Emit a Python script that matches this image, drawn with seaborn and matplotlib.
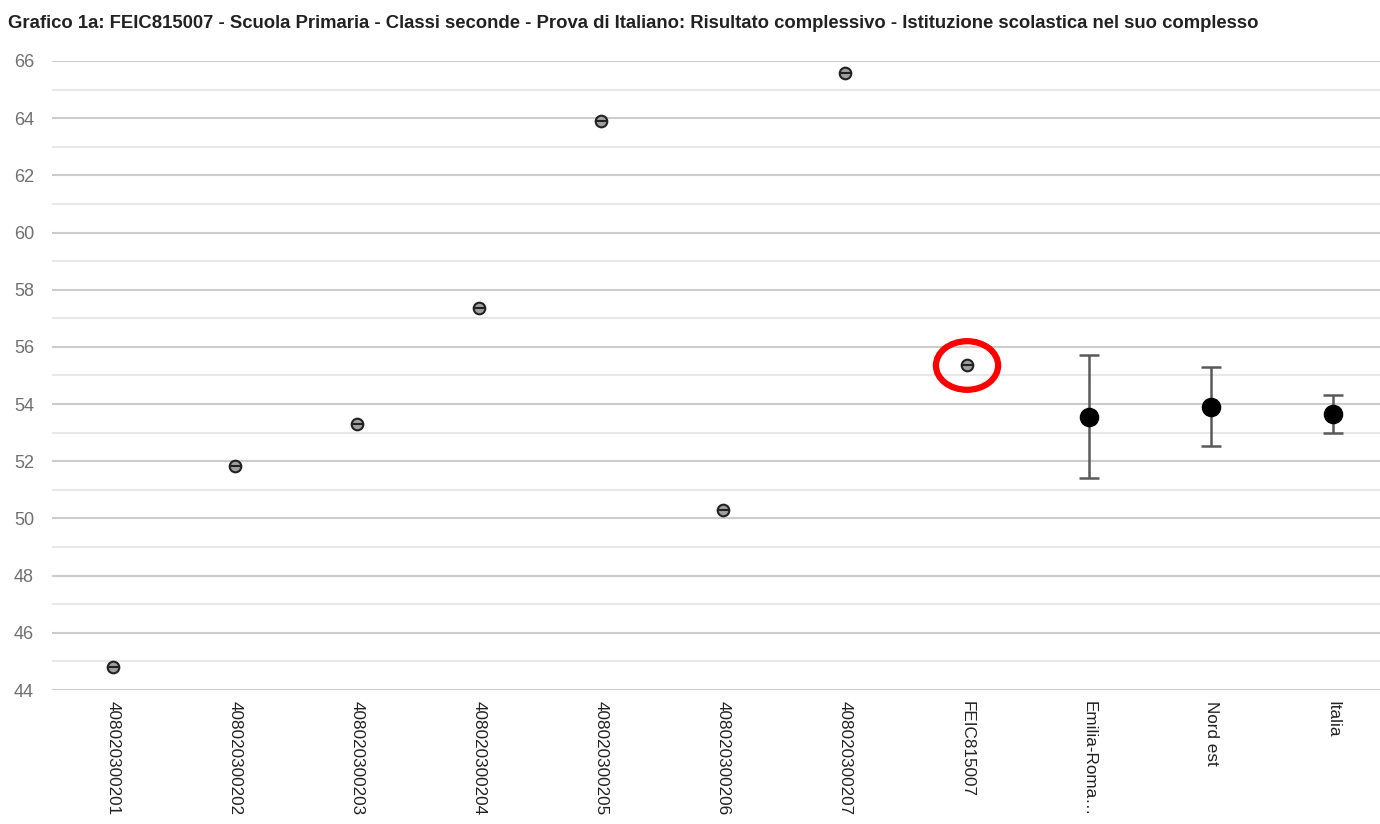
import pandas as pd
import matplotlib.pyplot as plt
from matplotlib.patches import Ellipse
import seaborn as sns

categories = ['408020300201', '408020300202', '408020300203', '408020300204',
              '408020300205', '408020300206', '408020300207', 'FEIC815007',
              'Emilia-Roma…', 'Nord est', 'Italia']
scores = [44.8, 51.85, 53.3, 57.35, 63.9, 50.3, 65.57, 55.35, 53.55, 53.9, 53.65]
err_low = [None] * 8 + [51.4, 52.52, 52.98]
err_high = [None] * 8 + [55.7, 55.28, 54.32]
kind = ['classe'] * 7 + ['scuola'] + ['riferimento'] * 3

df = pd.DataFrame({'cat': categories, 'score': scores, 'kind': kind,
                   'low': err_low, 'high': err_high})

sns.set_style('white')
plt.rcParams['font.family'] = ['Liberation Sans', 'DejaVu Sans']

fig = plt.figure(figsize=(13.8, 8.24), dpi=100)
ax = fig.add_axes([0.0377, 0.1626, 0.9623, 0.7634])

small = df[df['kind'] != 'riferimento']
big = df[df['kind'] == 'riferimento']

# reference areas with confidence interval
ref = big.dropna(subset=['low', 'high'])
xpos = [categories.index(c) for c in ref['cat']]
ax.errorbar(xpos, ref['score'],
            yerr=[ref['score'] - ref['low'], ref['high'] - ref['score']],
            fmt='none', ecolor='#5a5a5a', elinewidth=1.8, capsize=7, capthick=1.8, zorder=2)

sns.scatterplot(data=small, x='cat', y='score', ax=ax, s=70, color='#a0a0a0',
                edgecolor='#222222', linewidth=1.5, zorder=3, legend=False)
sns.scatterplot(data=small, x='cat', y='score', ax=ax, s=70, marker='_',
                color='#222222', linewidth=1.5, zorder=4, legend=False)
sns.scatterplot(data=big, x='cat', y='score', ax=ax, s=170, color='black',
                edgecolor='black', zorder=5, legend=False)

# red highlight around the school
i = categories.index('FEIC815007')
ax.add_patch(Ellipse((i, scores[i]), 0.51, 1.7, fill=False, edgecolor='#ff0000',
                     linewidth=4.5, zorder=6))

ax.set_xlim(-0.5, len(categories) - 0.615)
ax.set_ylim(44, 66)
ax.set_yticks(range(44, 67, 2))
ax.set_yticks(range(45, 66, 2), minor=True)
ax.grid(axis='y', which='major', color='#cccccc', linewidth=1.5)
ax.grid(axis='y', which='minor', color='#e8e8e8', linewidth=1.5)
ax.grid(axis='x', visible=False)
ax.set_axisbelow(True)
for s in ax.spines.values():
    s.set_visible(False)

ax.tick_params(axis='y', length=0, pad=13, labelsize=13, labelcolor='#707070')
ax.tick_params(axis='y', which='minor', length=0)
ax.tick_params(axis='x', length=0, pad=8, labelsize=12.3, labelcolor='#222222')
ax.set_xticks(range(len(categories)))
ax.set_xticklabels(categories, rotation=270, va='top', ha='center')
ax.set_xlabel('')
ax.set_ylabel('')

fig.text(0.006, 0.966, 'Grafico 1a: FEIC815007 - Scuola Primaria - Classi seconde - Prova di Italiano: '
         'Risultato complessivo - Istituzione scolastica nel suo complesso',
         fontsize=13.3, fontweight='bold', color='#222222', va='baseline', ha='left')

fig.savefig('out.png', dpi=100)
